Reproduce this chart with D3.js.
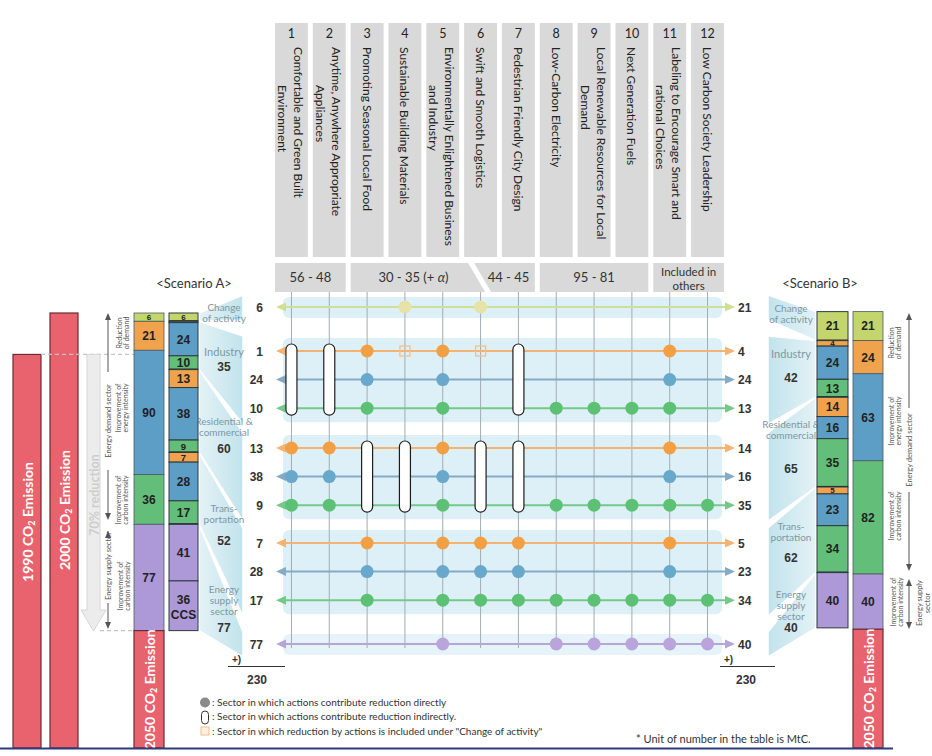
<!DOCTYPE html>
<html><head><meta charset="utf-8">
<script src="https://cdn.jsdelivr.net/npm/d3@7"></script>
<style>
html,body{margin:0;padding:0;background:#fff;}
svg{display:block;font-family:Lato,"Open Sans",sans-serif;}
</style></head><body>
<svg id="chart" width="932" height="756"></svg>
<script>
// ---------------- DATA ----------------
const actionNumbers = ["1","2","3","4","5","6","7","8","9","10","11","12"];
const actionNames = [
  ["Comfortable and Green Built","Environment"],
  ["Anytime, Anywhere Appropriate","Appliances"],
  ["Promoting Seasonal Local Food"],
  ["Sustainable Building Materials"],
  ["Environmentally Enlightened Business","and Industry"],
  ["Swift and Smooth Logistics"],
  ["Pedestrian Friendly City Design"],
  ["Low-Carbon Electricity"],
  ["Local Renewable Resources for Local","Demand"],
  ["Next Generation Fuels"],
  ["Labeling to Encourage Smart and","rational Choices"],
  ["Low Carbon Society Leadership"]
];
const groupLabels = [["56 - 48"],["30 - 35 (+ ","α",")"],["44 - 45"],["95 - 81"],["Included in","others"]];
const groupFirstCol = ["1","3","6","8","11"];
const groupLastCol  = ["2","6","7","10","12"];

const sectors = ["Change of activity","Industry","Residential & commercial","Transportation","Energy supply sector"];
const sectorLabelLines = [["Change","of activity"],["Industry"],["Residential &","commercial"],["Trans-","portation"],["Energy","supply","sector"]];
const sectorTotalsA = [null,35,60,52,77];
const sectorTotalsB = [null,42,65,62,40];

const rowSector = [0,1,1,1,2,2,2,3,3,3,4];
const rowType   = ["activity","demand","energy","carbon","demand","energy","carbon","demand","energy","carbon","supply"];
const rowValuesA = [6,1,24,10,13,38,9,7,28,17,77];
const rowValuesB = [21,4,24,13,14,16,35,5,23,34,40];
const directCols = [
  ["4","6"],
  ["3","5","11"],
  ["3","5","11"],
  ["3","5","8","9","10","11"],
  ["1","2","5","11"],
  ["1","2","5","11"],
  ["1","2","5","8","9","10","11","12"],
  ["3","5","6","7","11"],
  ["3","5","6","7","11"],
  ["3","5","6","7","8","9","10","11","12"],
  ["5","8","9","10","11","12"]
];
const indirectFirstRow = [1,4];
const indirectLastRow  = [3,6];
const indirectCols = [["1","2","7"],["3","4","6","7"]];
const includedRow = 1;
const includedCols = ["4","6"];

const aggTypes = ["activity","demand","energy","carbon","supply"];
const barA1Values = [6,21,90,36,77];
const barA2Values = [6,1,24,10,13,38,9,7,28,17,41,36];
const barA2Types  = ["activity","demand","energy","carbon","demand","energy","carbon","demand","energy","carbon","supply","supply"];
const barA2Sector = [0,1,1,1,2,2,2,3,3,3,4,4];
const barA2Notes  = ["","","","","","","","","","","","CCS"];
const barB2Values = [21,24,63,82,40];

const emissionYears = ["1990","2000"];
const emissionValues = [285,315];
const emission2050A = 85;
const emission2050B = 86;

const legendTexts = [": Sector in which actions contribute reduction directly",
  ": Sector in which actions contribute reduction indirectly.",
  ": Sector in which reduction by actions is included under \"Change of activity\""];
const noteText = "* Unit of number in the table is MtC.";

// ---------------- STYLE ----------------
const typeFill = {activity:"#c3d56c", demand:"#f1a24c", energy:"#5d9ec6", carbon:"#63be79", supply:"#ad98d8"};
const typeLine = {activity:"#cfe096", demand:"#f3b372", energy:"#83abc6", carbon:"#74c98a", supply:"#b6a6d8"};
const typeDot  = {activity:"#e6e2a8", demand:"#f3a044", energy:"#68a8cb", carbon:"#5cc174", supply:"#b9a5dc"};
const numFont = "'Liberation Sans',Arial,sans-serif";
const red = "#e8636d", redStroke = "#6d2b30";

const svg = d3.select("#chart");
const defs = svg.append("defs");
const gl = defs.append("linearGradient").attr("id","funL").attr("x1","0").attr("x2","1").attr("y1","0").attr("y2","0");
gl.append("stop").attr("offset","0").attr("stop-color","#e3f2f6");
gl.append("stop").attr("offset","1").attr("stop-color","#c2e3ec");
const gr = defs.append("linearGradient").attr("id","funR").attr("x1","1").attr("x2","0").attr("y1","0").attr("y2","0");
gr.append("stop").attr("offset","0").attr("stop-color","#e3f2f6");
gr.append("stop").attr("offset","1").attr("stop-color","#c2e3ec");

// ---------------- SCALES ----------------
const xCol = d3.scaleBand().domain(actionNumbers).range([275,724]).paddingInner(0.13);
const bw = xCol.bandwidth();
const cx = c => xCol(c) + bw/2;
const yEm = d3.scaleLinear().domain([0,315]).range([748,313]);
const sectorStartY = d3.scaleOrdinal().domain(d3.range(5)).range([307,351,448,543,644]);
const rowStep = 28.6;
const rowIdxInSector = rowSector.map((s,i)=> i - rowSector.indexOf(s));
const rowY = i => sectorStartY(rowSector[i]) + rowIdxInSector[i]*rowStep;
const sectorRows = d3.range(5).map(s => d3.range(rowSector.length).filter(i=>rowSector[i]===s));
const bandRange = s => {
  const r = sectorRows[s], single = r.length===1;
  return [rowY(r[0]) - (single?10:13), rowY(r[r.length-1]) + (single?11:14)];
};

// ---------------- HEADER ----------------
const hg = svg.append("g");
actionNumbers.forEach((n,i)=>{
  const x0 = xCol(n), c = cx(n);
  hg.append("rect").attr("x",x0).attr("y",23).attr("width",bw).attr("height",234).attr("fill","#d9d9d9");
  hg.append("text").attr("x",c).attr("y",38).attr("text-anchor","middle").attr("font-size",12.5).attr("fill","#222").text(n);
  const lines = actionNames[i];
  lines.forEach((ln,j)=>{
    const off = lines.length===1 ? 0 : (j===0 ? 7 : -9);
    const y0 = j===0 ? 47 : 85;
    hg.append("text").attr("transform",`translate(${c+off},${y0}) rotate(90)`)
      .attr("dominant-baseline","central").attr("font-size",12).attr("fill","#222").text(ln);
  });
});
// group boxes
groupLabels.forEach((lab,g)=>{
  let pts;
  const xa = xCol(groupFirstCol[g]), xb = xCol(groupLastCol[g]) + bw, x6 = xCol("6");
  if (g===1) pts = [[xa,263],[x6+4,263],[x6+21,292],[xa,292]];
  else if (g===2) pts = [[x6+10,263],[xb,263],[xb,292],[x6+27,292]];
  else pts = [[xa,263],[xb,263],[xb,292],[xa,292]];
  hg.append("polygon").attr("points",pts.map(p=>p.join(",")).join(" ")).attr("fill","#d9d9d9");
  let tx = g===1 ? (xa + x6+12)/2 : (g===2 ? (x6+18+xb)/2 : (xa+xb)/2);
  if (g===4) {
    lab.forEach((l,j)=> hg.append("text").attr("x",tx).attr("y",276+j*14).attr("text-anchor","middle")
      .attr("font-size",11.5).attr("fill","#333").text(l));
  } else {
    const t = hg.append("text").attr("x",tx).attr("y",282).attr("text-anchor","middle").attr("font-size",13).attr("fill","#333");
    lab.forEach((l,j)=> t.append("tspan").attr("font-style", (g===1 && j===1) ? "italic" : null).text(l));
  }
});

// ---------------- GRID ----------------
const gg = svg.append("g");
// bands
d3.range(5).forEach(s=>{
  const [b0,b1] = bandRange(s);
  gg.append("rect").attr("x",283).attr("y",b0).attr("width",439).attr("height",b1-b0).attr("rx",6)
    .attr("fill", s===4 ? "#e6f3f8" : "#ddf0f7");
});
// funnels left
let cumA = 0;
const topA = emission2050A + d3.sum(barA2Values);
const sectorSumA = d3.range(5).map(s=> d3.sum(barA2Values.filter((v,i)=>barA2Sector[i]===s)));
d3.range(5).forEach(s=>{
  const yt = yEm(topA - cumA), yb = yEm(topA - cumA - sectorSumA[s]);
  cumA += sectorSumA[s];
  const [b0,b1] = bandRange(s);
  gg.append("polygon").attr("points",[[199,yt],[243,b0-2],[243,b1+2],[199,yb]].map(p=>p.join(",")).join(" "))
    .attr("fill","url(#funL)").attr("stroke","#fff").attr("stroke-width",1.5);
});
// funnels right
const topB = emission2050B + d3.sum(barB2Values);
let cumB = 0;
d3.range(5).forEach(s=>{
  const sum = d3.sum(rowValuesB.filter((v,i)=>rowSector[i]===s));
  const yt = yEm(topB - cumB), yb = yEm(topB - cumB - sum);
  cumB += sum;
  const [b0,b1] = bandRange(s);
  gg.append("polygon").attr("points",[[768,b0-2],[816,yt],[816,yb],[768,b1+2]].map(p=>p.join(",")).join(" "))
    .attr("fill","url(#funR)").attr("stroke","#fff").attr("stroke-width",1.5);
});
// vertical lines
actionNumbers.forEach(n=>{
  gg.append("line").attr("x1",cx(n)).attr("x2",cx(n)).attr("y1",292).attr("y2",rowY(10)+4)
    .attr("stroke","#a3abb3").attr("stroke-width",1);
});
// row lines
rowType.forEach((t,i)=>{
  const y = rowY(i), col = typeLine[t];
  gg.append("line").attr("x1",284).attr("x2",726).attr("y1",y).attr("y2",y).attr("stroke",col).attr("stroke-width",2);
  gg.append("path").attr("d",`M276,${y} L286,${y-4.5} L286,${y+4.5} Z`).attr("fill",col);
  gg.append("path").attr("d",`M735,${y} L725,${y-4.5} L725,${y+4.5} Z`).attr("fill",col);
});
// included squares
includedCols.forEach(c=>{
  gg.append("rect").attr("x",cx(c)-5).attr("y",rowY(includedRow)-5).attr("width",10).attr("height",10)
    .attr("fill","none").attr("stroke","#f2c08e").attr("stroke-width",1.3);
});
// capsules
indirectCols.forEach((cols,k)=>{
  const y0 = rowY(indirectFirstRow[k]) - 7, y1 = rowY(indirectLastRow[k]) + 7;
  cols.forEach(c=>{
    gg.append("rect").attr("x",cx(c)-5.5).attr("y",y0).attr("width",11).attr("height",y1-y0).attr("rx",5.5)
      .attr("fill","#fff").attr("stroke","#1d1d1d").attr("stroke-width",1.2);
  });
});
// dots
directCols.forEach((cols,i)=>{
  cols.forEach(c=>{
    gg.append("circle").attr("cx",cx(c)).attr("cy",rowY(i)).attr("r",6.5).attr("fill",typeDot[rowType[i]]);
  });
});
// row value labels
rowValuesA.forEach((v,i)=>{
  gg.append("text").attr("x",263).attr("y",rowY(i)+4.5).attr("text-anchor","end").attr("font-family",numFont)
    .attr("font-weight","bold").attr("font-size",12).attr("fill","#333").text(v);
});
rowValuesB.forEach((v,i)=>{
  gg.append("text").attr("x",738).attr("y",rowY(i)+4.5).attr("font-family",numFont)
    .attr("font-weight","bold").attr("font-size",12).attr("fill","#333").text(v);
});
// sums
[[228,285,257],[720,775,746]].forEach(([a,b,c])=>{
  gg.append("text").attr("x",a+4).attr("y",663).attr("font-family",numFont).attr("font-weight","bold").attr("font-size",10).attr("fill","#333").text("+)");
  gg.append("line").attr("x1",a).attr("x2",b).attr("y1",666.5).attr("y2",666.5).attr("stroke","#333").attr("stroke-width",1.2);
  gg.append("text").attr("x",c).attr("y",684).attr("text-anchor","middle").attr("font-family",numFont).attr("font-weight","bold").attr("font-size",12).attr("fill","#333").text(d3.sum(rowValuesA));
});

// sector labels
const labelYA = [311,356,425,512,593], totalYA = [0,371,453,545,632];
const labelYB = [312,358,428,530,598], totalYB = [0,382,473,562,632];
function sectorLabels(cxL, ly, ty, totals) {
  sectorLabelLines.forEach((lines,s)=>{
    lines.forEach((l,j)=> gg.append("text").attr("x",cxL).attr("y",ly[s]+j*11).attr("text-anchor","middle")
      .attr("font-size", s===1 ? 11 : 10).attr("fill","#7d98a5").text(l));
    if (totals[s]!==null) gg.append("text").attr("x",cxL).attr("y",ty[s]).attr("text-anchor","middle")
      .attr("font-family",numFont).attr("font-weight","bold").attr("font-size",12).attr("fill","#333").text(totals[s]);
  });
}
sectorLabels(224, labelYA, totalYA, sectorTotalsA);
sectorLabels(791, labelYB, totalYB, sectorTotalsB);

// ---------------- BARS ----------------
const bg = svg.append("g");
svg.append("text").attr("x",194).attr("y",288).attr("text-anchor","middle").attr("font-size",13).attr("fill","#333").text("<Scenario A>");
svg.append("text").attr("x",820).attr("y",288).attr("text-anchor","middle").attr("font-size",13).attr("fill","#333").text("<Scenario B>");

// 1990 / 2000 bars
const emX = [13,50];
emissionYears.forEach((yr,i)=>{
  bg.append("rect").attr("x",emX[i]).attr("y",yEm(emissionValues[i])).attr("width",28).attr("height",yEm(0)-yEm(emissionValues[i]))
    .attr("fill",red).attr("stroke",redStroke).attr("stroke-width",1.2);
});
function co2Label(x, y, yr) {
  const t = bg.append("text").attr("transform",`translate(${x},${y}) rotate(-90)`).attr("text-anchor","middle")
    .attr("font-weight","bold").attr("font-size",14).attr("fill","#fff").attr("dominant-baseline","central");
  t.append("tspan").text(yr+" CO");
  t.append("tspan").attr("font-size",9).attr("dy",4).text("2");
  t.append("tspan").attr("dy",-4).text(" Emission");
}
co2Label(27, 522, "1990");
co2Label(64, 510, "2000");

// 70% reduction arrow
bg.append("line").attr("x1",41).attr("x2",134).attr("y1",yEm(emissionValues[0])).attr("y2",yEm(emissionValues[0]))
  .attr("stroke","#c4c4c4").attr("stroke-dasharray","4,3").attr("stroke-width",1.2);
const y90 = yEm(emissionValues[0]);
bg.append("path").attr("d",`M87,${y90} L100,${y90} L100,610 L106,610 L93.5,631 L81,610 L87,610 Z`)
  .attr("fill","#ececec").attr("stroke","#d6d6d6").attr("stroke-width",1);
bg.append("text").attr("transform","translate(94,495) rotate(-90)").attr("text-anchor","middle").attr("dominant-baseline","central")
  .attr("font-size",12.5).attr("font-weight","bold").attr("fill","#cdcdcd").text("70% reduction");
bg.append("line").attr("x1",100).attr("x2",134).attr("y1",yEm(emission2050A)).attr("y2",yEm(emission2050A))
  .attr("stroke","#c4c4c4").attr("stroke-dasharray","4,3").attr("stroke-width",1.2);

function stack(values, types, x, w, top, opts) {
  let cum = 0, prevBottom = -Infinity;
  values.forEach((v,i)=>{
    const y0 = yEm(top - cum), y1 = yEm(top - cum - v);
    cum += v;
    bg.append("rect").attr("x",x).attr("y",y0).attr("width",w).attr("height",y1-y0)
      .attr("fill",typeFill[types[i]]).attr("stroke",opts.stroke).attr("stroke-width",opts.sw);
    const h = y1-y0, note = opts.notes ? opts.notes[i] : "";
    const cyy = (y0+y1)/2 + (note ? -6 : 0);
    const fs = h < 5 ? 7 : (h < 9 ? 8 : (h < 13 ? 9.5 : 12));
    let base = cyy + fs*0.36;
    if (base - 0.93*fs < prevBottom + 0.5) base = prevBottom + 0.5 + 0.93*fs;
    prevBottom = base + 0.22*fs;
    bg.append("text").attr("x",x+w/2).attr("y",base).attr("text-anchor","middle").attr("font-family",numFont)
      .attr("font-weight","bold").attr("font-size", fs).attr("fill","#222").text(v);
    if (note) {
      bg.append("text").attr("x",x+w/2).attr("y",cyy+19).attr("text-anchor","middle").attr("font-family",numFont)
        .attr("font-weight","bold").attr("font-size",12).attr("fill","#222").text(note);
      prevBottom = cyy + 22;
    }
    if (opts.sector && i<values.length-1 && opts.sector[i]!==opts.sector[i+1]) {
      bg.append("line").attr("x1",x).attr("x2",x+w).attr("y1",y1).attr("y2",y1).attr("stroke","#1f2a30").attr("stroke-width",2.2);
    }
  });
  return yEm(top - cum);
}
// Scenario A
stack(barA1Values, aggTypes, 134, 30, topA, {stroke:"#4b5a62", sw:0.8});
stack(barA2Values, barA2Types, 169, 29, topA, {stroke:"#2c3a40", sw:1, notes:barA2Notes, sector:barA2Sector});
// Scenario B
stack(rowValuesB, rowType, 817, 31, topB, {stroke:"#2c3a40", sw:1, sector:rowSector});
stack(barB2Values, aggTypes, 853, 30, topB, {stroke:"#4b5a62", sw:0.8});

// 2050 bars
[[134,emission2050A],[853,emission2050B]].forEach(([x,v])=>{
  bg.append("rect").attr("x",x).attr("y",yEm(v)).attr("width",30).attr("height",yEm(0)-yEm(v))
    .attr("fill",red).attr("stroke",redStroke).attr("stroke-width",1.2);
  co2Label(x+15, (yEm(v)+yEm(0))/2, "2050");
});

// ---------------- SIDE AXES ----------------
const ag = svg.append("g");
function arrowHead(x, y, dir) {
  const d = dir==="up" ? `M${x},${y} L${x-3},${y+7} L${x+3},${y+7} Z` : `M${x},${y} L${x-3},${y-7} L${x+3},${y-7} Z`;
  ag.append("path").attr("d",d).attr("fill","#555");
}
function vline(x,y1,y2){ ag.append("line").attr("x1",x).attr("x2",x).attr("y1",y1).attr("y2",y2).attr("stroke","#555").attr("stroke-width",1); }
function rlabel(x, y, lines, size, gap) {
  lines.forEach((l,j)=>{
    ag.append("text").attr("transform",`translate(${x+j*gap},${y}) rotate(-90)`).attr("text-anchor","middle")
      .attr("dominant-baseline","central").attr("font-size",size).attr("fill","#555").text(l);
  });
}
// left
arrowHead(108,313,"up"); vline(108,318,372);
rlabel(108,421,["Energy demand sector"],7.5,0);
vline(108,470,515); arrowHead(108,520,"down");
arrowHead(108,531,"up"); vline(108,536,531);
rlabel(108,566,["Energy supply sector"],7.5,0);
vline(108,603,624); arrowHead(108,629,"down");
rlabel(119,333,["Reduction","of demand"],7,7);
rlabel(118,408,["Improvement of","energy intensity"],7,7);
rlabel(118,500,["Improvement of","carbon intensity"],7,7);
rlabel(120,586,["Improvement of","carbon intensity"],7,7);
// right
arrowHead(909,313,"up"); vline(909,318,408);
rlabel(909,450,["Energy demand sector"],7.5,0);
vline(909,492,566); arrowHead(909,571,"down");
arrowHead(909,579,"up"); vline(909,584,624); arrowHead(909,629,"down");
rlabel(919,603,["Energy supply","sector"],7.5,8);
rlabel(891,343,["Reduction","of demand"],7,7);
rlabel(891,421,["Improvement of","energy intensity"],7,7);
rlabel(891,516,["Improvement of","carbon intensity"],7,7);
rlabel(893,602,["Improvement of","carbon intensity"],7,7);

// ---------------- LEGEND ----------------
const lg = svg.append("g");
lg.append("circle").attr("cx",205).attr("cy",702.5).attr("r",5).attr("fill","#8a8a8a");
lg.append("rect").attr("x",201.5).attr("y",711).attr("width",7).attr("height",13).attr("rx",3.5).attr("fill","#fff").attr("stroke","#333").attr("stroke-width",1);
lg.append("rect").attr("x",201).attr("y",727).attr("width",8).attr("height",8).attr("fill","#fdf0e2").attr("stroke","#f2bf8a").attr("stroke-width",1);
legendTexts.forEach((t,i)=> lg.append("text").attr("x",212).attr("y",706+i*14.3).attr("font-size",10).attr("fill","#333").text(t));
lg.append("text").attr("x",636).attr("y",743).attr("font-size",11).attr("fill","#333").text(noteText);
svg.append("line").attr("x1",0).attr("x2",893).attr("y1",748.5).attr("y2",748.5).attr("stroke","#2d3d78").attr("stroke-width",2);
</script>
</body></html>
